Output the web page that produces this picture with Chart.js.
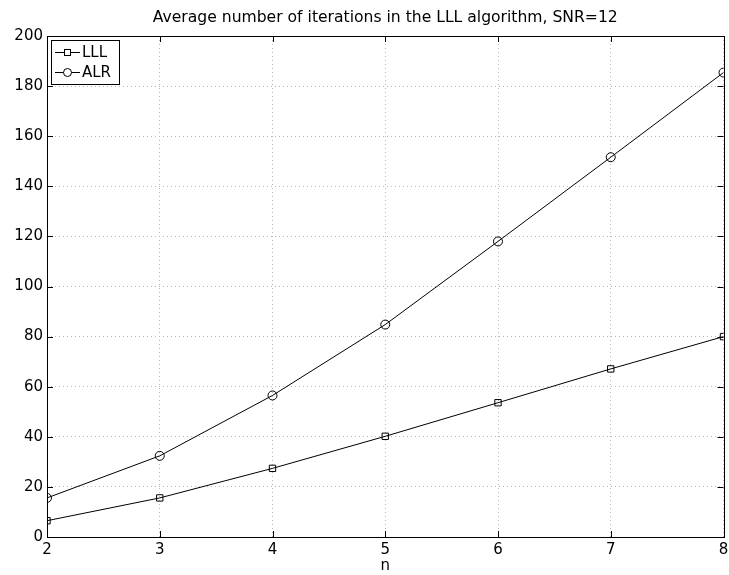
<!DOCTYPE html>
<html><head><meta charset="utf-8">
<script src="https://cdn.jsdelivr.net/npm/chart.js@4/dist/chart.umd.min.js"></script>
<style>html,body{margin:0;padding:0;background:#fff}#wrap{width:729px;height:575px}</style>
</head><body><div id="wrap"><canvas id="c" width="729" height="575"></canvas></div>
<script>
const nValues = [2, 3, 4, 5, 6, 7, 8];
const lllIterations = [6.5, 15.6, 27.4, 40.2, 53.6, 67.1, 80.0];
const alrIterations = [15.6, 32.4, 56.5, 84.8, 118.0, 151.6, 185.4];
const titleText = 'Average number of iterations in the LLL algorithm, SNR=12';
const xLabel = 'n';
const FONT = '"DejaVu Sans", "Liberation Sans", Arial, sans-serif';

const boxPlugin = {
  id: 'boxPlugin',
  afterDraw(chart) {
    const {ctx, chartArea: a, scales} = chart;
    ctx.save();
    ctx.fillStyle = '#000';
    ctx.font = '15.6px ' + FONT;
    ctx.textAlign = 'center';
    ctx.textBaseline = 'middle';
    ctx.fillText(titleText, (a.left + a.right) / 2, 18);
    ctx.textAlign = 'left';

    ctx.strokeStyle = '#000';
    ctx.lineWidth = 1;
    ctx.strokeRect(Math.round(a.left)+0.5, Math.round(a.top)+0.5, Math.round(a.right-a.left), Math.round(a.bottom-a.top));
    const tl = 6;
    scales.x.ticks.forEach(t => {
      const px = Math.round(scales.x.getPixelForValue(t.value)) + 0.5;
      ctx.beginPath();
      ctx.moveTo(px, a.bottom); ctx.lineTo(px, a.bottom - tl);
      ctx.moveTo(px, a.top); ctx.lineTo(px, a.top + tl);
      ctx.stroke();
    });
    scales.y.ticks.forEach(t => {
      const py = Math.round(scales.y.getPixelForValue(t.value)) + 0.5;
      ctx.beginPath();
      ctx.moveTo(a.left, py); ctx.lineTo(a.left + tl, py);
      ctx.moveTo(a.right, py); ctx.lineTo(a.right - tl, py);
      ctx.stroke();
    });
    const lx = Math.round(a.left) + 4, ly = Math.round(a.top) + 4, lw = 68, lh = 44;
    ctx.fillStyle = '#fff';
    ctx.fillRect(lx, ly, lw, lh);
    ctx.strokeRect(lx + 0.5, ly + 0.5, lw, lh);
    ctx.font = '15px ' + FONT;
    ctx.textBaseline = 'middle';
    chart.data.datasets.forEach((ds, i) => {
      const cy = ly + 12 + i * 20;
      ctx.beginPath();
      ctx.moveTo(lx + 4, cy + 0.5); ctx.lineTo(lx + 29, cy + 0.5);
      ctx.stroke();
      ctx.fillStyle = '#fff';
      if (ds.pointStyle === 'rect') {
        ctx.fillRect(lx + 13, cy - 3, 6, 6);
        ctx.strokeRect(lx + 13.5, cy - 2.5, 6, 6);
      } else {
        ctx.beginPath(); ctx.arc(lx + 16.5, cy + 0.5, 4, 0, Math.PI * 2); ctx.fill(); ctx.stroke();
      }
      ctx.fillStyle = '#000';
      ctx.fillText(ds.label, lx + 31, cy + 1);
    });
    ctx.restore();
  }
};

new Chart(document.getElementById('c'), {
  type: 'line',
  data: {
    datasets: [
      { label: 'LLL', data: nValues.map((n, i) => ({x: n, y: lllIterations[i]})),
        borderColor: '#000', borderWidth: 1, pointStyle: 'rect', pointRadius: 4.5,
        pointBackgroundColor: 'rgba(0,0,0,0)', pointBorderColor: '#000', pointBorderWidth: 1, tension: 0 },
      { label: 'ALR', data: nValues.map((n, i) => ({x: n, y: alrIterations[i]})),
        borderColor: '#000', borderWidth: 1, pointStyle: 'circle', pointRadius: 4.5,
        pointBackgroundColor: 'rgba(0,0,0,0)', pointBorderColor: '#000', pointBorderWidth: 1, tension: 0 }
    ]
  },
  options: {
    responsive: false, animation: false, devicePixelRatio: 1,
    layout: { padding: { left: 0, right: 5, top: 36, bottom: 0 } },
    plugins: {
      legend: { display: false },
      tooltip: { enabled: false },
      title: { display: false }
    },
    scales: {
      x: { type: 'linear', min: 2, max: 8,
        ticks: { stepSize: 1, color: '#000', font: { family: FONT, size: 15 }, padding: 4 },
        grid: { color: '#b8b8b8', drawTicks: false },
        border: { display: false, dash: [1, 3] },
        title: { display: true, text: xLabel, color: '#000', font: { family: FONT, size: 15 }, padding: { top: 0, bottom: 0 } },
        afterFit(s) { s.height = 38; s.paddingLeft = 0; s.paddingRight = 0; } },
      y: { min: 0, max: 200,
        ticks: { stepSize: 20, color: '#000', font: { family: FONT, size: 15 }, padding: 4 },
        grid: { color: '#b8b8b8', drawTicks: false },
        border: { display: false, dash: [1, 3] },
        afterFit(s) { s.width = 47; s.paddingTop = 0; s.paddingBottom = 0; } }
    }
  },
  plugins: [boxPlugin]
});
</script></body></html>
